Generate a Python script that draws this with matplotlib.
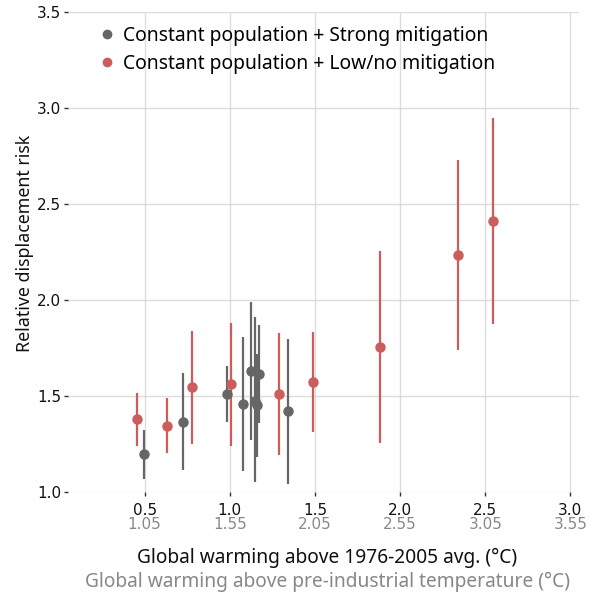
import numpy as np
import matplotlib
matplotlib.use("Agg")
import matplotlib.pyplot as plt
from matplotlib.lines import Line2D

plt.rcParams['font.family'] = ['Noto Sans', 'DejaVu Sans']

# Constant population + Strong mitigation
strong_x = [0.498, 0.725, 0.985, 1.080, 1.125, 1.147, 1.160, 1.170, 1.340]
strong_y = [1.198, 1.366, 1.510, 1.457, 1.632, 1.474, 1.453, 1.615, 1.420]
strong_lo = [1.069, 1.115, 1.363, 1.111, 1.271, 1.054, 1.184, 1.360, 1.043]
strong_hi = [1.321, 1.618, 1.656, 1.806, 1.991, 1.910, 1.717, 1.870, 1.798]

# Constant population + Low/no mitigation
low_x = [0.455, 0.629, 0.777, 1.006, 1.287, 1.491, 1.879, 2.337, 2.544]
low_y = [1.380, 1.345, 1.545, 1.563, 1.510, 1.574, 1.755, 2.236, 2.413]
low_lo = [1.241, 1.205, 1.250, 1.241, 1.193, 1.314, 1.255, 1.738, 1.875]
low_hi = [1.517, 1.488, 1.837, 1.882, 1.828, 1.833, 2.255, 2.731, 2.948]

xticks = [0.5, 1.0, 1.5, 2.0, 2.5, 3.0]
offset_preind = 0.55

grey = '#666666'
red = '#cd5c5c'

fig = plt.figure(figsize=(5.95, 5.95), dpi=100)
ax = fig.add_axes([0.1143, 0.173, 0.8587, 0.807])

series = [
    (strong_x, strong_y, strong_lo, strong_hi, grey, 'Constant population + Strong mitigation'),
    (low_x, low_y, low_lo, low_hi, red, 'Constant population + Low/no mitigation'),
]
handles = []
for xs, ys, lo, hi, c, lab in series:
    ys = np.array(ys)
    yerr = [ys - np.array(lo), np.array(hi) - ys]
    ax.errorbar(xs, ys, yerr=yerr, fmt='o', color=c, ms=6.5, elinewidth=1.6,
                capsize=0, zorder=3)
    handles.append(Line2D([], [], ls='none', marker='o', ms=6, color=c, label=lab))

ax.set_xlim(0.05, 3.05)
ax.set_ylim(1.0, 3.5)
ax.set_xticks(xticks)
ax.set_xticklabels(['%.1f' % t for t in xticks])
ax.set_yticks([1.0, 1.5, 2.0, 2.5, 3.0, 3.5])
ax.grid(True, color='#dcdcdc', lw=1)
ax.set_axisbelow(True)
for s in ax.spines.values():
    s.set_visible(False)
ax.tick_params(axis='both', length=3, width=1, color='#333333', labelsize=11, pad=2,
               labelcolor='#111111')
ax.tick_params(axis='x', pad=5)
for lbl in ax.get_xticklabels() + ax.get_yticklabels():
    lbl.set_family('DejaVu Sans')

sec = ax.secondary_xaxis(-0.052, functions=(lambda x: x + offset_preind, lambda x: x - offset_preind))
sec.set_xticks([t + offset_preind for t in xticks])
sec.set_xticklabels(['%.2f' % (t + offset_preind) for t in xticks], family='DejaVu Sans')
sec.tick_params(length=0, labelsize=11, labelcolor='#888888', pad=0)
sec.spines['bottom'].set_visible(False)

ax.set_ylabel('Relative displacement risk', fontsize=12.8, color='#111111')
ax.yaxis.set_label_coords(-0.0675, 0.518)
fig.text(0.5496, 0.0622, 'Global warming above 1976-2005 avg. (°C)', ha='center', va='center',
         fontsize=13.8, color='#111111')
fig.text(0.5496, 0.0224, 'Global warming above pre-industrial temperature (°C)', ha='center',
         va='center', fontsize=13.8, color='#888888')

ax.legend(handles=handles, loc='upper left', bbox_to_anchor=(0.061, 0.9715), frameon=False,
          fontsize=13.9, handletextpad=0.43, handlelength=0.8, borderaxespad=0,
          borderpad=0, labelspacing=0.42)

fig.savefig('out.png', dpi=100)
